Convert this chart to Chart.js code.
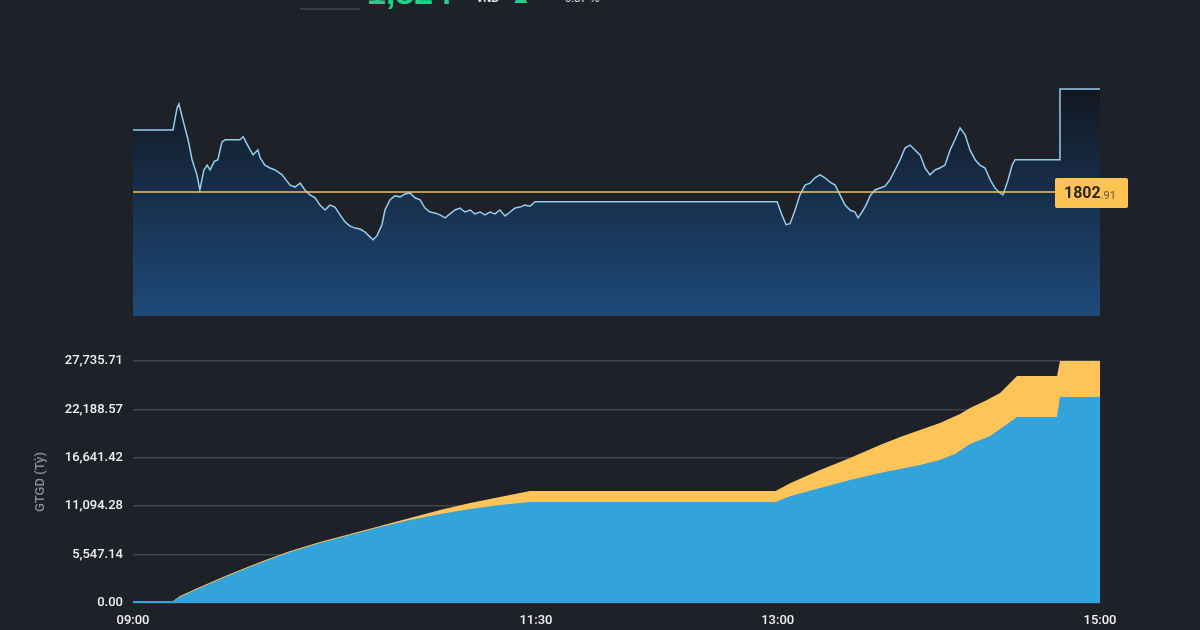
<!DOCTYPE html>
<html><head><meta charset="utf-8">
<script src="https://cdn.jsdelivr.net/npm/chart.js@4.4.0/dist/chart.umd.min.js"></script>
<style>
html,body{margin:0;padding:0;background:#1f2128;width:1200px;height:630px;overflow:hidden;font-family:"Liberation Sans",Arial,sans-serif}
#c1{position:absolute;left:0;top:80px}
#c2{position:absolute;left:0;top:340px}
.hd{position:absolute;white-space:nowrap}
</style></head><body>
<div class="hd" style="left:300px;top:8px;width:60px;height:2px;background:#3a3d45"></div>
<div class="hd" style="left:367px;top:-27px;font-size:34px;font-weight:bold;color:#1fd18a">1,824</div>
<div class="hd" style="left:476px;top:-8px;font-size:11px;font-weight:bold;color:#e8e8e8">VND</div>
<div class="hd" style="left:510px;top:-17px;font-size:22px;font-weight:bold;color:#1fd18a">▲</div>
<div class="hd" style="left:565px;top:-8px;font-size:11px;color:#e8e8e8">0.37 %</div>
<canvas id="c1" width="1200" height="245"></canvas>
<canvas id="c2" width="1200" height="290"></canvas>
<script>
// time in minutes from 09:00
const priceTimes=[0,14.9,16.4,17.1,18.6,20.5,22.0,23.8,24.9,26.4,27.6,28.7,30.2,31.6,33.1,34.3,39.8,41.0,43.6,44.7,46.5,47.3,49.1,51.0,52.9,55.5,58.5,60.3,62.2,64.0,65.9,67.8,69.6,71.5,73.3,75.2,77.1,78.9,80.8,82.7,84.5,86.4,88.2,89.4,90.8,92.7,93.8,95.7,97.5,99.4,101.3,103.1,105.0,106.9,108.7,110.6,112.4,114.3,116.2,118.0,119.9,121.7,123.6,125.5,127.3,129.2,131.0,132.9,134.8,136.6,138.5,140.4,142.2,144.1,145.9,147.8,149.7,239.8,241.6,243.1,244.6,246.5,248.3,250.2,252.0,253.9,255.8,257.6,259.5,261.4,263.2,265.1,266.9,268.8,269.9,271.4,272.9,274.4,276.2,278.1,280.0,281.8,283.7,285.6,287.4,289.3,291.1,293.0,294.9,296.7,298.6,300.4,302.3,304.2,306.0,307.9,309.8,311.6,313.5,315.3,317.2,319.1,320.9,322.8,323.9,325.8,327.3,328.4,344.8,345.1,360];
const priceValues=[1815.6,1815.6,1820.1,1820.9,1817.6,1813.6,1809.5,1806.4,1803.3,1807.4,1808.4,1807.4,1809.1,1809.5,1813.1,1813.6,1813.6,1814.2,1811.5,1810.5,1811.5,1809.9,1808.4,1807.8,1807.4,1806.4,1804.3,1803.9,1804.7,1803.3,1802.3,1801.7,1800.2,1799.2,1800.2,1799.8,1798.2,1796.8,1795.9,1795.5,1795.3,1794.7,1793.7,1793.1,1793.9,1796.2,1799.2,1801.3,1802.1,1801.9,1802.5,1802.7,1801.7,1801.3,1799.6,1798.8,1798.6,1798.2,1797.6,1798.4,1799.2,1799.6,1798.8,1799.2,1798.4,1798.8,1798.2,1798.8,1798.4,1799.2,1798.0,1798.8,1799.6,1799.8,1800.2,1800.0,1800.9,1800.9,1798.2,1796.2,1796.4,1799.2,1802.3,1804.3,1804.7,1805.8,1806.4,1805.8,1804.9,1804.3,1802.3,1800.2,1799.2,1798.8,1797.6,1798.8,1800.2,1802.1,1803.3,1803.7,1804.1,1805.4,1807.4,1809.5,1811.9,1812.5,1811.5,1810.5,1807.8,1806.4,1807.4,1807.8,1808.4,1811.5,1813.6,1816.0,1814.6,1811.5,1809.5,1808.4,1807.8,1805.4,1803.7,1802.7,1802.3,1805.4,1808.4,1809.5,1809.5,1824.0,1824.0];
const refPrice=1802.91;
const valTimes=[0,14.9,17.5,24.9,36.1,47.3,58.5,69.6,80.8,92,103.1,114.3,125.5,136.6,147.8,150,239.2,244.8,255.8,266.9,278.1,285.6,293,300.4,306,311.6,319.1,329.1,344,345.1,360];
const blueValues=[229,229,688,1719,3209,4584,5845,6876,7793,8710,9512,10199,10772,11231,11575,11575,11575,12262,13179,14096,14898,15356,15815,16388,17075,18221,19138,21316,21316,23608,23608];
const totalTimes=[0,14.9,17.5,24.9,36.1,47.3,58.5,69.6,80.8,92,103.1,114.3,125.5,136.6,147.8,150,239.2,244.8,255.8,266.9,278.1,285.6,293,300.4,307.9,311.6,317.2,322.8,329.1,344,345.1,360];
const totalValues=[229,229,802,1834,3323,4699,5959,6991,7907,8824,9741,10658,11460,12148,12835,12835,12835,13752,15242,16617,18107,19024,19826,20628,21659,22347,23149,24066,26014,26014,27736,27736];
const yTickValues=[0,5547.14,11094.28,16641.42,22188.57,27735.71];
const yTickLabels=["0.00","5,547.14","11,094.28","16,641.42","22,188.57","27,735.71"];
const xTickValues=[0,150,240,360];
const xTickLabels=["09:00","11:30","13:00","15:00"];

const pts=(xs,ys)=>xs.map((x,i)=>({x:x,y:ys[i]}));
const F='Roboto,"Liberation Sans",Arial';

const refPlugin={id:'ref',afterDatasetsDraw(ch){
  const c=ch.ctx,a=ch.chartArea,y=ch.scales.y.getPixelForValue(refPrice);
  c.save();c.strokeStyle='#f5c35a';c.lineWidth=1.5;c.beginPath();c.moveTo(a.left,y);c.lineTo(a.right,y);c.stroke();
  const bx=1055,bw=73,bh=30;
  c.fillStyle='#fdc453';c.beginPath();c.roundRect(bx,y-14,bw,bh,2);c.fill();
  c.fillStyle='#2a2416';c.textBaseline='middle';
  c.font='bold 16px '+F;c.fillText('1802',bx+9,y+2);
  const w=c.measureText('1802').width;
  c.font='11px '+F;c.fillStyle='#6b5a30';c.fillText('.91',bx+9+w,y+4);
  c.restore();}};

new Chart(document.getElementById('c1'),{type:'line',
 data:{datasets:[{data:pts(priceTimes,priceValues),borderColor:'#93cdef',borderWidth:1.5,pointRadius:0,tension:0,fill:'start',
  backgroundColor(ctx){const a=ctx.chart.chartArea;if(!a)return '#1d4470';const g=ctx.chart.ctx.createLinearGradient(0,a.top,0,a.bottom);g.addColorStop(0,'#121720');g.addColorStop(1,'#1e4a7a');return g;}}]},
 options:{responsive:false,animation:false,events:[],layout:{padding:{left:133,right:100,top:5,bottom:9}},
  plugins:{legend:{display:false},tooltip:{enabled:false}},
  scales:{x:{type:'linear',min:0,max:360,display:false},y:{min:1777.5,max:1824.8,display:false}}},
 plugins:[refPlugin]});

new Chart(document.getElementById('c2'),{type:'line',
 data:{datasets:[
  {data:pts(valTimes,blueValues),borderWidth:0,pointRadius:0,tension:0,fill:'origin',backgroundColor:'#33a3dc',order:1},
  {data:pts(totalTimes,totalValues),borderWidth:0,pointRadius:0,tension:0,fill:'origin',backgroundColor:'#fec458',order:2}]},
 options:{responsive:false,animation:false,events:[],layout:{padding:{left:29,right:100,top:21,bottom:0}},
  plugins:{legend:{display:false},tooltip:{enabled:false}},
  scales:{
   x:{type:'linear',min:0,max:360,afterBuildTicks(s){s.ticks=xTickValues.map(v=>({value:v}));},
      afterFit(s){s.height=27;},grid:{display:false},border:{display:false},
      ticks:{color:'#f0f0f0',font:{size:13,family:F,weight:'500'},padding:2,maxRotation:0,autoSkip:false,
        callback(v){const i=xTickValues.indexOf(v);return i>=0?xTickLabels[i]:'';}}},
   y:{min:0,max:27735.71,afterBuildTicks(s){s.ticks=yTickValues.map(v=>({value:v}));},
      afterFit(s){s.width=104;},border:{display:false},grid:{color:'#41444c',drawTicks:false,lineWidth:1.5},
      title:{display:true,text:'GTGD (Tỷ)',color:'#8a8d94',font:{size:13,family:F,weight:'500'},padding:{bottom:4}},
      ticks:{color:'#f0f0f0',font:{size:13,family:F,weight:'500'},padding:10,autoSkip:false,
        callback(v){const i=yTickValues.indexOf(v);return i>=0?yTickLabels[i]:'';}}}}}});
</script></body></html>
